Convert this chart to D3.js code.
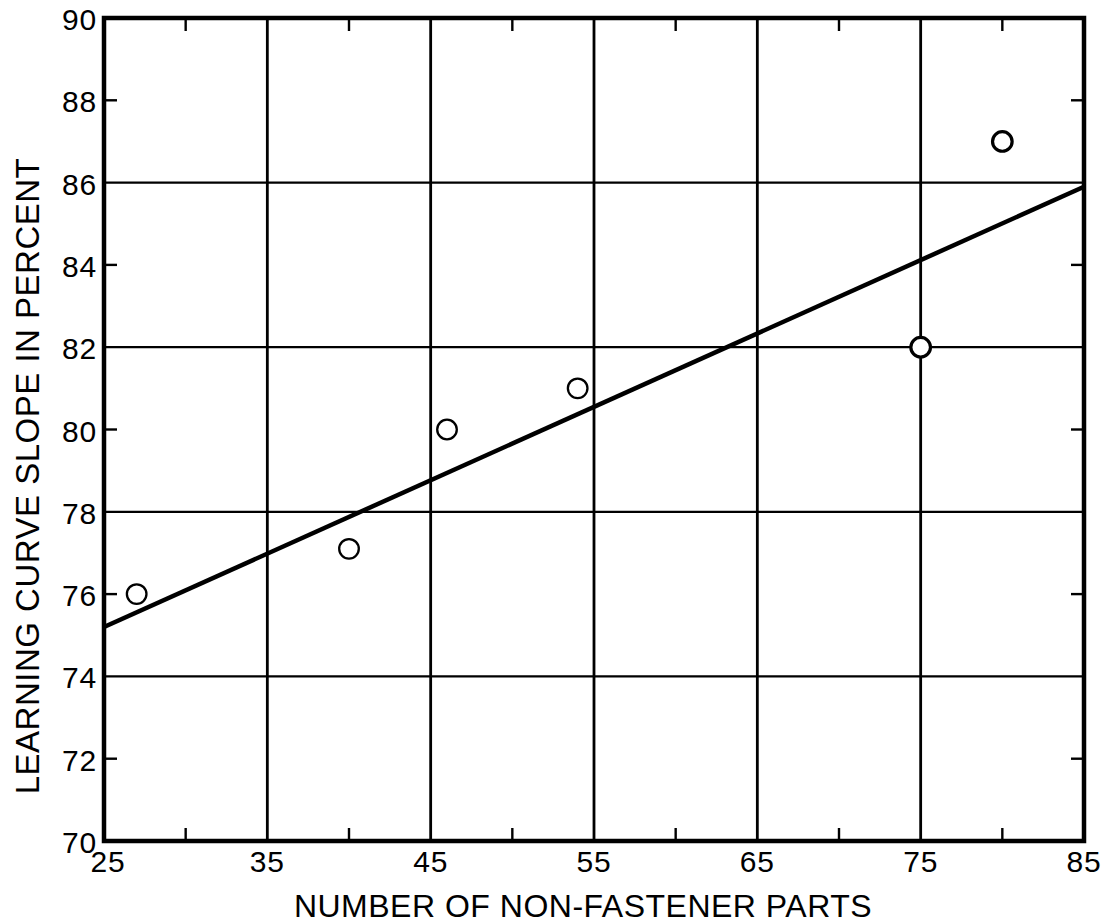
<!DOCTYPE html>
<html>
<head>
<meta charset="utf-8">
<script src="https://cdn.jsdelivr.net/npm/d3@7/dist/d3.min.js"></script>
<style>
  html, body { margin: 0; padding: 0; background: #fff; }
  svg { display: block; }
  text { font-family: "Liberation Sans", Arial, Helvetica, sans-serif; fill: #000; }
</style>
</head>
<body>
<svg id="chart" width="1109" height="924"></svg>
<script>
// Observed learning-curve slopes against part count
const partCounts = [27, 40, 46, 54, 75, 80];
const slopePercent = [76, 77.1, 80, 81, 82, 87];

// Fitted trend line endpoints
const fitX = [25, 85];
const fitY = [75.2, 85.9];

// Axis ticks
const xLabelTicks = [25, 35, 45, 55, 65, 75, 85];
const xGridTicks = [35, 45, 55, 65, 75];
const xMinorTicks = [30, 40, 50, 60, 70, 80];
const yLabelTicks = [70, 72, 74, 76, 78, 80, 82, 84, 86, 88, 90];
const yGridTicks = [74, 78, 82, 86];
const yMinorTicks = [72, 76, 80, 84, 88];

const xTitle = "NUMBER OF NON-FASTENER PARTS";
const yTitle = "LEARNING CURVE SLOPE IN PERCENT";

const svg = d3.select("#chart");
const x = d3.scaleLinear().domain([25, 85]).range([104, 1084]);
const y = d3.scaleLinear().domain([70, 90]).range([841, 18]);

const [x0, x1] = x.range();
const [y0, y1] = y.range();

// Grid lines
svg.append("g").selectAll("line").data(xGridTicks).join("line")
  .attr("x1", d => x(d)).attr("x2", d => x(d))
  .attr("y1", y1).attr("y2", y0)
  .attr("stroke", "#000").attr("stroke-width", 2.8);

svg.append("g").selectAll("line").data(yGridTicks).join("line")
  .attr("x1", x0).attr("x2", x1)
  .attr("y1", d => y(d)).attr("y2", d => y(d))
  .attr("stroke", "#000").attr("stroke-width", 2.2);

// Short inward ticks on all four sides
const tickLen = 13;
const minor = svg.append("g").attr("stroke", "#000").attr("stroke-width", 2.4);
minor.selectAll(".tb").data(xMinorTicks).join("line").attr("class", "tb")
  .attr("x1", d => x(d)).attr("x2", d => x(d))
  .attr("y1", y1).attr("y2", y1 + tickLen);
minor.selectAll(".bt").data(xMinorTicks).join("line").attr("class", "bt")
  .attr("x1", d => x(d)).attr("x2", d => x(d))
  .attr("y1", y0).attr("y2", y0 - tickLen);
minor.selectAll(".lt").data(yMinorTicks).join("line").attr("class", "lt")
  .attr("x1", x0).attr("x2", x0 + tickLen)
  .attr("y1", d => y(d)).attr("y2", d => y(d));
minor.selectAll(".rt").data(yMinorTicks).join("line").attr("class", "rt")
  .attr("x1", x1).attr("x2", x1 - tickLen)
  .attr("y1", d => y(d)).attr("y2", d => y(d));

// Trend line
svg.append("line")
  .attr("x1", x(fitX[0])).attr("y1", y(fitY[0]))
  .attr("x2", x(fitX[1])).attr("y2", y(fitY[1]))
  .attr("stroke", "#000").attr("stroke-width", 4.5)
  .attr("stroke-linecap", "butt");

// Frame
svg.append("rect")
  .attr("x", x0).attr("y", y1)
  .attr("width", x1 - x0).attr("height", y0 - y1)
  .attr("fill", "none").attr("stroke", "#000").attr("stroke-width", 4.5);

// Data points: open circles
svg.append("g").selectAll("circle").data(partCounts).join("circle")
  .attr("cx", (d, i) => x(d))
  .attr("cy", (d, i) => y(slopePercent[i]))
  .attr("r", 9.8)
  .attr("fill", "#fff")
  .attr("stroke", "#000")
  .attr("stroke-width", (d, i) => (i >= 4 ? 3.2 : 2.3));

// Y tick labels
svg.append("g").selectAll("text").data(yLabelTicks).join("text")
  .attr("x", 97)
  .attr("y", d => y(d) + 12)
  .attr("text-anchor", "end")
  .attr("font-size", 30)
  .attr("letter-spacing", 0.8)
  .text(d => d);

// X tick labels
svg.append("g").selectAll("text").data(xLabelTicks).join("text")
  .attr("x", d => x(d) + (d === 25 ? 4 : 0))
  .attr("y", 872)
  .attr("text-anchor", "middle")
  .attr("font-size", 30)
  .attr("letter-spacing", 0.8)
  .text(d => d);

// Axis titles
svg.append("text")
  .attr("x", 583).attr("y", 917)
  .attr("text-anchor", "middle")
  .attr("font-size", 32)
  .attr("letter-spacing", 0.5)
  .text(xTitle);

svg.append("text")
  .attr("transform", "translate(39,476) rotate(-90)")
  .attr("text-anchor", "middle")
  .attr("font-size", 33)
  .attr("letter-spacing", 0.5)
  .text(yTitle);
</script>
</body>
</html>
